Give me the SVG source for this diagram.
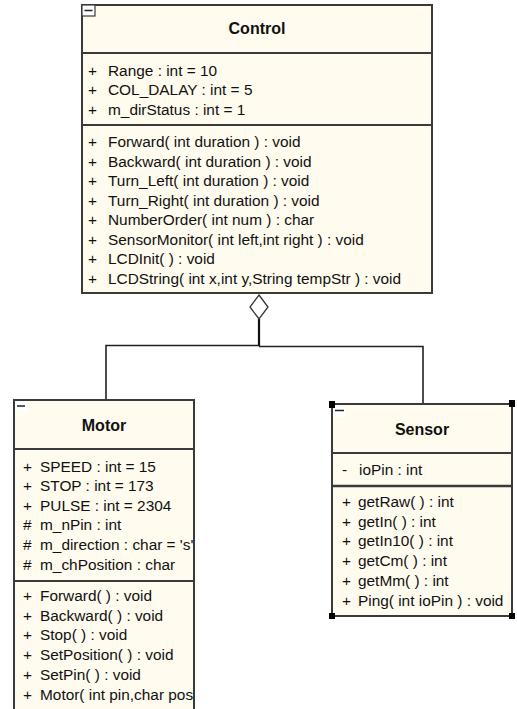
<svg xmlns="http://www.w3.org/2000/svg" width="517" height="709" viewBox="0 0 517 709">
<style>
.box{fill:#FFFBEF;stroke:#3a3a3a;stroke-width:2}
.div{stroke:#3a3a3a;stroke-width:2}
.t{font-family:"Liberation Sans",Arial,sans-serif;font-size:15.4px;fill:#111}
.h{font-family:"Liberation Sans",Arial,sans-serif;font-size:16px;font-weight:bold;fill:#111;text-anchor:middle}
.con{fill:none;stroke:#222;stroke-width:1.6}
.hd{fill:#000}
.mn{stroke:#222;stroke-width:1.5}
</style>
<defs>
<clipPath id="motorClip"><rect x="15" y="400" width="178" height="320"/></clipPath>
</defs>
<rect width="517" height="709" fill="#fff"/>
<g id="connectors">
<path class="con" d="M106,400 V345.5 H259"/>
<path class="con" d="M259,346.5 H423 V404"/>
<path d="M259,319 V346" stroke="#111" stroke-width="2.2" fill="none"/>
<polygon points="259,295 268,307 259,319 250,307" fill="#fff" stroke="#333" stroke-width="1.3"/>
</g>
<g id="control">
<rect class="box" x="82" y="5" width="350" height="288"/>
<rect x="82" y="5" width="13" height="11" fill="#fff" stroke="#3a3a3a" stroke-width="1.2"/>
<line class="mn" x1="84.5" y1="10.5" x2="92.5" y2="10.5"/>
<line class="div" x1="82" y1="53" x2="432" y2="53"/>
<line class="div" x1="82" y1="125" x2="432" y2="125"/>
<text class="h" x="257" y="34">Control</text>
<g class="t" xml:space="preserve"><text x="88" y="75.5">+</text><text x="108" y="75.5">Range : int = 10</text><text x="88" y="95">+</text><text x="108" y="95">COL_DALAY : int = 5</text><text x="88" y="114.5">+</text><text x="108" y="114.5">m_dirStatus : int = 1</text><text x="88" y="147">+</text><text x="108" y="147">Forward( int duration ) : void</text><text x="88" y="166.5">+</text><text x="108" y="166.5">Backward( int duration ) : void</text><text x="88" y="186">+</text><text x="108" y="186">Turn_Left( int duration ) : void</text><text x="88" y="205.5">+</text><text x="108" y="205.5">Turn_Right( int duration ) : void</text><text x="88" y="225">+</text><text x="108" y="225">NumberOrder( int num ) : char</text><text x="88" y="244.5">+</text><text x="108" y="244.5">SensorMonitor( int left,int right ) : void</text><text x="88" y="264">+</text><text x="108" y="264">LCDInit(  ) : void</text><text x="88" y="283.5">+</text><text x="108" y="283.5">LCDString( int x,int y,String tempStr ) : void</text></g>
</g>
<g id="motor">
<rect class="box" x="14" y="400" width="180" height="330"/>
<rect x="15" y="401" width="12" height="10" fill="#fff"/>
<line class="mn" x1="17" y1="406" x2="25" y2="406"/>
<line class="div" x1="14" y1="449" x2="194" y2="449"/>
<line class="div" x1="14" y1="581" x2="194" y2="581"/>
<text class="h" x="104" y="431">Motor</text>
<g class="t" clip-path="url(#motorClip)" xml:space="preserve"><text x="23" y="471.5">+</text><text x="40" y="471.5">SPEED : int = 15</text><text x="23" y="491.1">+</text><text x="40" y="491.1">STOP : int = 173</text><text x="23" y="510.7">+</text><text x="40" y="510.7">PULSE : int = 2304</text><text x="23" y="530.3">#</text><text x="40" y="530.3">m_nPin : int</text><text x="23" y="549.9">#</text><text x="40" y="549.9">m_direction : char = 's'</text><text x="23" y="569.5">#</text><text x="40" y="569.5">m_chPosition : char</text><text x="23" y="601">+</text><text x="40" y="601">Forward(  ) : void</text><text x="23" y="620.7">+</text><text x="40" y="620.7">Backward(  ) : void</text><text x="23" y="640.4">+</text><text x="40" y="640.4">Stop(  ) : void</text><text x="23" y="660.1">+</text><text x="40" y="660.1">SetPosition(  ) : void</text><text x="23" y="679.8">+</text><text x="40" y="679.8">SetPin(  ) : void</text><text x="23" y="699.5">+</text><text x="40" y="699.5">Motor( int pin,char position )</text></g>
</g>
<g id="sensor">
<rect class="box" x="332" y="404" width="180" height="212"/>
<rect x="333" y="407" width="12" height="10" fill="#fff"/>
<line class="mn" x1="335" y1="410.5" x2="344" y2="410.5"/>
<line class="div" x1="332" y1="453" x2="512" y2="453"/>
<line x1="332" y1="486" x2="512" y2="486" stroke="#3a3a3a" stroke-width="2.6"/>
<text class="h" x="422" y="435">Sensor</text>
<g class="t" xml:space="preserve"><text x="342" y="474.5">-</text><text x="359" y="474.5">ioPin : int</text><text x="342" y="507">+</text><text x="358" y="507">getRaw(  ) : int</text><text x="342" y="526.7">+</text><text x="358" y="526.7">getIn(  ) : int</text><text x="342" y="546.4">+</text><text x="358" y="546.4">getIn10(  ) : int</text><text x="342" y="566.1">+</text><text x="358" y="566.1">getCm(  ) : int</text><text x="342" y="585.8">+</text><text x="358" y="585.8">getMm(  ) : int</text><text x="342" y="605.5">+</text><text x="358" y="605.5">Ping( int ioPin ) : void</text></g>
<rect class="hd" x="329" y="401" width="6" height="7"/>
<rect class="hd" x="509" y="400" width="6" height="7"/>
<rect class="hd" x="329" y="613" width="6" height="6"/>
<rect class="hd" x="509" y="613" width="6" height="6"/>
</g>
</svg>
